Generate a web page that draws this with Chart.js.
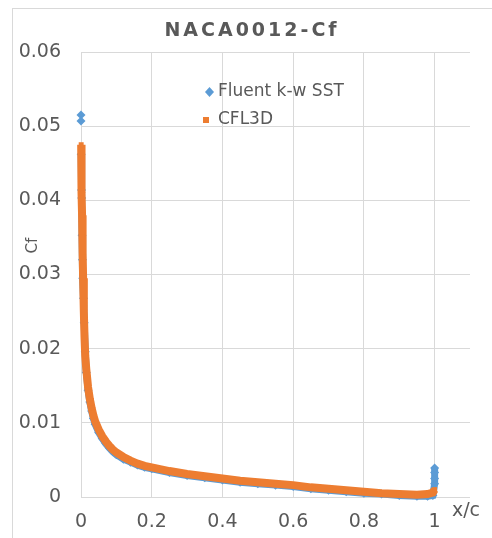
<!DOCTYPE html>
<html>
<head>
<meta charset="utf-8">
<script src="https://cdn.jsdelivr.net/npm/chart.js@4.4.0/dist/chart.umd.min.js"></script>
<style>
  html, body { margin: 0; padding: 0; background: #fff; overflow: hidden; }
  #frame { position: absolute; left: 12px; top: 8px; width: 490px; height: 540px;
           border-left: 1px solid #d9d9d9; border-top: 1px solid #d9d9d9; pointer-events: none; }
  #wrap { position: absolute; left: 0; top: 0; width: 492px; height: 538px; }
</style>
</head>
<body>
<div id="wrap"><canvas id="myChart" width="492" height="538"></canvas></div>
<div id="frame"></div>
<script>
// Skin friction along the chord

const fluentX = [0, 0, 0.0005, 0.0015, 0.002, 0.003, 0.004, 0.005, 0.007, 0.009, 0.012, 0.015,
    0.02, 0.025, 0.03, 0.035, 0.04, 0.05, 0.06, 0.07, 0.08, 0.09, 0.1, 0.12, 0.14, 0.16, 0.18,
    0.2, 0.25, 0.3, 0.35, 0.4, 0.45, 0.5, 0.55, 0.6, 0.65, 0.7, 0.75, 0.8, 0.85, 0.9, 0.95,
    0.98, 0.995, 1.0, 1.0, 1.0, 1.0];
const fluentCf = [0.0515, 0.0507, 0.0462, 0.0414, 0.0403, 0.0353, 0.0320, 0.0295, 0.0268, 0.0235, 0.0196, 0.0168,
    0.0144, 0.0128, 0.0116, 0.0106, 0.0098, 0.0087, 0.0079, 0.0072, 0.0066, 0.0061, 0.0057, 0.0051, 0.0047, 0.0043, 0.0040,
    0.0038, 0.0033, 0.0029, 0.0026, 0.0023, 0.0020, 0.0018, 0.0016, 0.0014, 0.0011, 0.0009, 0.0007, 0.0005, 0.0004, 0.0002, 0.0001,
    0.0001, 0.0002, 0.0018, 0.0025, 0.0033, 0.0039];

const cfl3dX = [0.0005, 0.001, 0.002, 0.003, 0.004, 0.005, 0.006, 0.008, 0.01, 0.012, 0.015,
    0.02, 0.025, 0.03, 0.035, 0.04, 0.05, 0.06, 0.07, 0.08, 0.09, 0.1, 0.12, 0.14, 0.16, 0.18,
    0.2, 0.25, 0.3, 0.35, 0.4, 0.45, 0.5, 0.55, 0.6, 0.65, 0.7, 0.75, 0.8, 0.85, 0.9, 0.95,
    0.98, 0.995, 1.0];
const cfl3dCf = [0.0475, 0.0450, 0.0410, 0.0380, 0.0350, 0.0330, 0.0295, 0.0250, 0.0215, 0.0190, 0.0172,
    0.0148, 0.0132, 0.0120, 0.0110, 0.0102, 0.0091, 0.0082, 0.0075, 0.0069, 0.0064, 0.0060, 0.0054, 0.0049, 0.0045, 0.0042,
    0.0040, 0.0035, 0.0031, 0.0028, 0.0025, 0.0022, 0.0020, 0.0018, 0.0016, 0.0013, 0.0011, 0.0009, 0.0007, 0.0005, 0.0004, 0.0003,
    0.0004, 0.0006, 0.0010];

const seriesNames = ['Fluent k-w SST', 'CFL3D'];
const xTicks = [0, 0.2, 0.4, 0.6, 0.8, 1];

const blue = '#5B9BD5';
const orange = '#ED7D31';
const textGrey = '#595959';
const gridGrey = '#d9d9d9';
const font = 'DejaVu Sans';

// title, legend and axis titles drawn by hand, the way the picture places them
const decorations = {
    id: 'decorations',
    afterDraw(chart) {
        const ctx = chart.ctx;
        const area = chart.chartArea;
        ctx.save();
        ctx.fillStyle = textGrey;

        // title with wide letter spacing
        ctx.font = 'bold 19px "' + font + '"';
        ctx.letterSpacing = '3px';
        ctx.textAlign = 'center';
        ctx.textBaseline = 'middle';
        ctx.fillText('NACA0012-Cf', 252, 31);
        ctx.letterSpacing = '0px';

        // legend inside the plot
        ctx.fillStyle = blue;
        ctx.beginPath();
        ctx.moveTo(209.5, 87); ctx.lineTo(214, 92); ctx.lineTo(209.5, 97); ctx.lineTo(205, 92);
        ctx.closePath();
        ctx.fill();
        ctx.fillStyle = orange;
        ctx.fillRect(203, 117, 6, 6);
        ctx.fillStyle = textGrey;
        ctx.font = '17px "' + font + '"';
        ctx.textAlign = 'left';
        ctx.fillText(seriesNames[0], 218, 92);
        ctx.fillText(seriesNames[1], 218, 120);

        // axis titles
        ctx.font = '19px "' + font + '"';
        ctx.textAlign = 'center';
        ctx.fillText('x/c', 466, 511);
        ctx.translate(33, area.top + (area.bottom - area.top) * 0.435);
        ctx.rotate(-Math.PI / 2);
        ctx.font = '15px "' + font + '"';
        ctx.fillText('Cf', 0, 0);
        ctx.restore();
    }
};

const fluentPts = fluentX.map((x, i) => ({ x: x, y: fluentCf[i] }));
const cfl3dPts = cfl3dX.map((x, i) => ({ x: x, y: cfl3dCf[i] }));

const config = {
    type: 'scatter',
    data: {
        datasets: [
            {
                label: seriesNames[0],
                data: fluentPts,
                order: 2,
                clip: 12,
                showLine: true,
                borderColor: blue,
                borderWidth: 7,
                backgroundColor: blue,
                pointStyle: 'rectRot',
                pointRadius: 4.5,
                pointBorderWidth: 0,
                segment: {
                    // the two leading-edge spikes stand alone as markers
                    borderColor: ctx => ctx.p0DataIndex < 2 ? 'rgba(0,0,0,0)' : blue
                }
            },
            {
                label: seriesNames[1],
                data: cfl3dPts,
                order: 1,
                clip: 12,
                showLine: true,
                borderColor: orange,
                borderWidth: 8,
                backgroundColor: orange,
                pointStyle: 'rect',
                pointRadius: 3.5,
                pointBorderWidth: 0
            }
        ]
    },
    options: {
        responsive: false,
        animation: false,
        layout: { padding: { top: 52, right: 22, left: 0, bottom: 0 } },
        plugins: {
            legend: { display: false },
            title: { display: false },
            tooltip: { enabled: false }
        },
        scales: {
            x: {
                type: 'linear',
                min: 0,
                max: 1.1,
                afterFit: scale => { scale.height = 41; },
                afterBuildTicks: scale => { scale.ticks = xTicks.map(v => ({ value: v })); },
                grid: { color: gridGrey, drawTicks: false },
                border: { display: false },
                ticks: {
                    padding: 14,
                    color: textGrey,
                    font: { family: font, size: 19 },
                    callback: v => String(v)
                }
            },
            y: {
                min: 0,
                max: 0.06,
                afterFit: scale => { scale.width = 81; },
                grid: { color: gridGrey, drawTicks: false },
                border: { display: false },
                ticks: {
                    stepSize: 0.01,
                    padding: 20,
                    color: textGrey,
                    font: { family: font, size: 19 },
                    callback: v => v === 0 ? '0' : v.toFixed(2)
                }
            }
        }
    },
    plugins: [decorations]
};

var myChart = new Chart(document.getElementById('myChart'), config);
</script>
</body>
</html>
